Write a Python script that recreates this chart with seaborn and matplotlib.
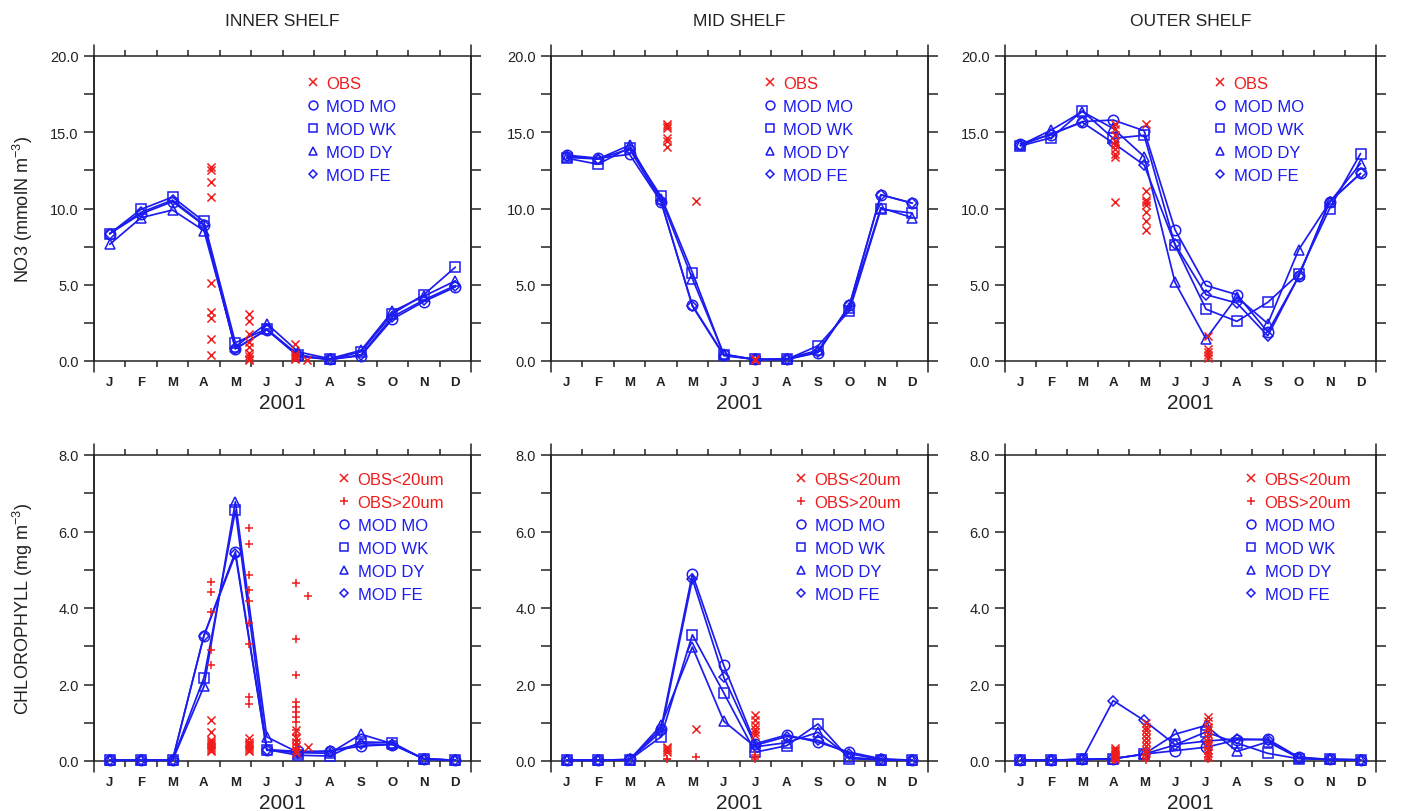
import numpy as np
import matplotlib
matplotlib.use("Agg")
import matplotlib.pyplot as plt
from matplotlib.lines import Line2D
from matplotlib.ticker import MultipleLocator, FormatStrFormatter
import seaborn as sns

# ---------------------------------------------------------------- data
MONTHS = ["J", "F", "M", "A", "M", "J", "J", "A", "S", "O", "N", "D"]
SHELVES = ["INNER SHELF", "MID SHELF", "OUTER SHELF"]
RUNS = ["MOD MO", "MOD WK", "MOD DY", "MOD FE"]
YEAR = "2001"

# Nitrate (mmolN m-3), monthly model means
no3_inner = {
    "MOD MO": [8.35, 9.65, 10.45, 8.9, 0.8, 2.05, 0.3, 0.1, 0.35, 2.75, 3.9, 4.85],
    "MOD WK": [8.35, 9.95, 10.75, 9.15, 1.2, 2.1, 0.4, 0.1, 0.6, 3.1, 4.35, 6.15],
    "MOD DY": [7.65, 9.4, 9.9, 8.55, 0.95, 2.45, 0.6, 0.15, 0.7, 3.25, 4.25, 5.25],
    "MOD FE": [8.35, 9.75, 10.55, 8.95, 0.8, 2.05, 0.35, 0.1, 0.4, 2.9, 4.0, 4.95],
}
no3_mid = {
    "MOD MO": [13.5, 13.3, 13.55, 10.45, 3.65, 0.4, 0.1, 0.1, 0.55, 3.65, 10.9, 10.35],
    "MOD WK": [13.3, 12.9, 14.0, 10.8, 5.8, 0.4, 0.1, 0.1, 1.0, 3.3, 9.95, 9.7],
    "MOD DY": [13.35, 13.25, 14.15, 10.65, 5.4, 0.45, 0.1, 0.15, 0.7, 3.5, 10.05, 9.4],
    "MOD FE": [13.45, 13.25, 13.9, 10.5, 3.6, 0.35, 0.1, 0.1, 0.6, 3.65, 10.9, 10.35],
}
no3_outer = {
    "MOD MO": [14.25, 14.85, 15.7, 15.8, 15.1, 8.6, 4.95, 4.35, 1.9, 5.55, 10.45, 12.3],
    "MOD WK": [14.1, 14.65, 16.4, 14.6, 14.8, 7.6, 3.4, 2.6, 3.85, 5.7, 10.0, 13.6],
    "MOD DY": [14.15, 15.15, 16.35, 15.25, 13.4, 5.15, 1.45, 4.2, 2.45, 7.3, 10.4, 12.95],
    "MOD FE": [14.15, 14.9, 15.65, 14.3, 12.85, 7.65, 4.35, 3.8, 1.65, 5.55, 10.45, 12.3],
}

# Nitrate observations: (fractional month, value)
no3_obs_inner_t = [3.74] * 9 + [4.94] * 9 + [6.4] * 5 + [6.77]
no3_obs_inner_v = [12.7, 12.5, 11.75, 10.75, 5.1, 3.2, 2.8, 1.45, 0.4,
                   3.1, 2.65, 1.8, 1.25, 0.9, 0.5, 0.3, 0.15, 0.05,
                   1.1, 0.45, 0.3, 0.2, 0.1, 0.08]
no3_obs_mid_t = [3.68] * 6 + [4.6] + [6.5] * 3
no3_obs_mid_v = [15.55, 15.4, 15.25, 14.65, 14.45, 14.05, 10.5, 0.15, 0.1, 0.05]
no3_obs_outer_t = [3.57] * 9 + [4.55] * 8 + [6.55] * 5
no3_obs_outer_v = [15.55, 15.2, 14.85, 14.45, 14.15, 13.9, 13.6, 13.35, 10.45,
                   15.55, 11.15, 10.55, 10.4, 10.2, 9.8, 9.15, 8.6,
                   1.65, 0.8, 0.6, 0.4, 0.2]

# Chlorophyll (mg m-3), monthly model means
chl_inner = {
    "MOD MO": [0.02, 0.02, 0.02, 3.28, 5.47, 0.3, 0.25, 0.26, 0.39, 0.43, 0.06, 0.02],
    "MOD WK": [0.02, 0.02, 0.02, 2.18, 6.55, 0.3, 0.15, 0.13, 0.5, 0.48, 0.05, 0.02],
    "MOD DY": [0.02, 0.02, 0.02, 1.95, 6.78, 0.63, 0.22, 0.2, 0.7, 0.45, 0.05, 0.02],
    "MOD FE": [0.02, 0.02, 0.02, 3.28, 5.4, 0.28, 0.22, 0.25, 0.45, 0.43, 0.06, 0.02],
}
chl_mid = {
    "MOD MO": [0.02, 0.02, 0.04, 0.84, 4.89, 2.5, 0.45, 0.68, 0.49, 0.23, 0.06, 0.02],
    "MOD WK": [0.02, 0.02, 0.03, 0.63, 3.3, 1.78, 0.23, 0.4, 0.97, 0.06, 0.03, 0.02],
    "MOD DY": [0.02, 0.02, 0.03, 0.93, 2.98, 1.04, 0.37, 0.48, 0.75, 0.1, 0.03, 0.02],
    "MOD FE": [0.02, 0.02, 0.04, 0.76, 4.76, 2.19, 0.41, 0.64, 0.54, 0.19, 0.04, 0.02],
}
chl_outer = {
    "MOD MO": [0.02, 0.02, 0.04, 0.06, 0.18, 0.27, 0.36, 0.55, 0.57, 0.1, 0.04, 0.03],
    "MOD WK": [0.02, 0.02, 0.04, 0.06, 0.18, 0.42, 0.76, 0.47, 0.2, 0.06, 0.04, 0.03],
    "MOD DY": [0.02, 0.02, 0.04, 0.06, 0.18, 0.7, 0.93, 0.25, 0.5, 0.08, 0.04, 0.03],
    "MOD FE": [0.02, 0.02, 0.05, 1.58, 1.06, 0.43, 0.52, 0.58, 0.55, 0.08, 0.04, 0.03],
}

# Chlorophyll observations, small (<20um) and large (>20um) fractions
chl_small_inner_t = [3.74] * 9 + [4.94] * 7 + [6.42] * 6 + [6.8]
chl_small_inner_v = [1.08, 0.77, 0.55, 0.5, 0.45, 0.4, 0.35, 0.3, 0.25,
                     0.6, 0.5, 0.45, 0.4, 0.35, 0.3, 0.25,
                     0.8, 0.6, 0.5, 0.4, 0.3, 0.2, 0.37]
chl_large_inner_t = [3.74] * 5 + [4.94] * 9 + [6.42] * 14 + [6.8]
chl_large_inner_v = [4.67, 4.41, 3.89, 2.9, 2.5,
                     6.08, 5.67, 4.87, 4.47, 4.19, 3.61, 3.06, 1.67, 1.5,
                     4.66, 3.19, 2.25, 1.54, 1.41, 1.28, 1.15, 1.02, 0.8, 0.67,
                     0.55, 0.45, 0.35, 0.28, 4.31]
chl_small_mid_t = [3.68] * 4 + [4.6] + [6.5] * 6
chl_small_mid_v = [0.37, 0.33, 0.28, 0.23, 0.83, 1.19, 1.06, 0.93, 0.84, 0.77, 0.69]
chl_large_mid_t = [3.68] * 2 + [4.6] + [6.5] * 3
chl_large_mid_v = [0.06, 0.04, 0.1, 0.15, 0.1, 0.06]
chl_small_outer_t = [3.57] * 7 + [4.55] * 9 + [6.55] * 11
chl_small_outer_v = [0.35, 0.3, 0.25, 0.2, 0.15, 0.1, 0.05,
                     1.0, 0.9, 0.8, 0.7, 0.6, 0.5, 0.4, 0.3, 0.2,
                     1.15, 1.05, 0.9, 0.8, 0.7, 0.6, 0.5, 0.4, 0.3, 0.2, 0.1]
chl_large_outer_t = [3.57] * 3 + [4.55] * 3 + [6.55] * 5
chl_large_outer_v = [0.1, 0.05, 0.02, 0.15, 0.08, 0.03, 0.5, 0.35, 0.2, 0.1, 0.05]

# ---------------------------------------------------------------- style
BLUE = "#1c1cf0"
RED = "#f01c1c"
INK = "#222222"
RUN_MARKERS = {"MOD MO": ("o", 7.5), "MOD WK": ("s", 7.0),
               "MOD DY": ("^", 7.0), "MOD FE": ("D", 5.3)}

sns.set_theme(style="ticks")
plt.rcParams["font.family"] = ["Liberation Sans", "DejaVu Sans"]
plt.rcParams["mathtext.default"] = "regular"

fig = plt.figure(figsize=(14.03, 8.12), dpi=100)
W, H = 1403.0, 812.0
col_px = [(94, 377), (551, 377), (1005, 371)]
row_px = [(57, 305), (456, 306)]

panels = [
    [(no3_inner, [(no3_obs_inner_t, no3_obs_inner_v, "x")]),
     (no3_mid, [(no3_obs_mid_t, no3_obs_mid_v, "x")]),
     (no3_outer, [(no3_obs_outer_t, no3_obs_outer_v, "x")])],
    [(chl_inner, [(chl_small_inner_t, chl_small_inner_v, "x"),
                  (chl_large_inner_t, chl_large_inner_v, "+")]),
     (chl_mid, [(chl_small_mid_t, chl_small_mid_v, "x"),
                (chl_large_mid_t, chl_large_mid_v, "+")]),
     (chl_outer, [(chl_small_outer_t, chl_small_outer_v, "x"),
                  (chl_large_outer_t, chl_large_outer_v, "+")])],
]
row_cfg = [
    dict(ymax=20.0, major=5.0, minor=2.5,
         ylabel="NO3 (mmolN m$^{-3}$)",
         obs_labels=["OBS"], leg_anchor=(0.562, 0.935)),
    dict(ymax=8.0, major=2.0, minor=1.0,
         ylabel="CHLOROPHYLL (mg m$^{-3}$)",
         obs_labels=["OBS<20um", "OBS>20um"], leg_anchor=(0.646, 0.945)),
]

month_centers = np.arange(len(MONTHS)) + 0.5

for r, ((top, hgt), cfg) in enumerate(zip(row_px, row_cfg)):
    for c, (left, wid) in enumerate(col_px):
        ax = fig.add_axes([left / W, 1 - (top + hgt) / H, wid / W, hgt / H])
        model, obs_sets = panels[r][c]

        for run in RUNS:
            m, ms = RUN_MARKERS[run]
            sns.lineplot(x=month_centers, y=model[run], ax=ax, color=BLUE,
                         marker=m, markersize=ms, mfc="none", mec=BLUE,
                         mew=1.1, lw=1.25, clip_on=False, zorder=3)
        for t, v, m in obs_sets:
            sns.scatterplot(x=t, y=v, ax=ax, marker=m, color=RED, s=34,
                            linewidth=1.1, clip_on=False, zorder=4)

        ax.set_xlim(0, 12)
        ax.set_ylim(0, cfg["ymax"])

        # y axis: ticks outward on both sides
        ax.yaxis.set_major_locator(MultipleLocator(cfg["major"]))
        ax.yaxis.set_minor_locator(MultipleLocator(cfg["minor"]))
        ax.yaxis.set_major_formatter(FormatStrFormatter("%.1f"))
        ax.tick_params(axis="y", which="both", direction="out", length=7,
                       width=1.1, color=INK, left=True, right=True,
                       labelsize=10.5, labelcolor=INK, pad=4)

        # x axis: ticks at month boundaries, labels at month centres
        ax.set_xticks(np.arange(1, 12))
        ax.set_xticklabels([])
        ax.set_xticks(month_centers, minor=True)
        ax.set_xticklabels(MONTHS, minor=True)
        ax.tick_params(axis="x", which="major", direction="out", length=4,
                       width=1.1, color=INK, top=True, bottom=True)
        ax.tick_params(axis="x", which="minor", length=0, pad=11,
                       labelsize=9.5, labelcolor=INK)
        for lbl in ax.get_xticklabels(minor=True):
            lbl.set_fontweight("bold")

        for sp in ax.spines.values():
            sp.set_visible(True)
            sp.set_color(INK)
            sp.set_linewidth(1.1)
        # vertical frame lines run slightly past the plotting area
        ext = 11.0 / hgt
        for xs in (0.0, 1.0):
            ax.add_line(Line2D([xs, xs], [-ext, 1 + ext], transform=ax.transAxes,
                               color=INK, lw=1.1, clip_on=False))

        ax.set_xlabel(YEAR, fontsize=15, color=INK)
        ax.xaxis.label.set_va("baseline")
        ax.xaxis.set_label_coords(0.5, -0.155)

        if c == 0:
            ax.set_ylabel(cfg["ylabel"], fontsize=13, color=INK)
            ax.yaxis.label.set_va("center")
            ax.yaxis.set_label_coords(-71.0 / wid, 0.5)
        else:
            ax.set_ylabel("")

        if r == 0:
            ax.set_title(SHELVES[c], fontsize=12.5, color=INK, y=1.1, pad=0)

        handles, labels, colors = [], [], []
        for lab, (_, _, m) in zip(cfg["obs_labels"], obs_sets):
            handles.append(Line2D([], [], ls="none", marker=m, color=RED,
                                  markersize=6, mew=1.1))
            labels.append(lab)
            colors.append(RED)
        for run in RUNS:
            m, ms = RUN_MARKERS[run]
            handles.append(Line2D([], [], ls="none", marker=m, mfc="none",
                                  mec=BLUE, markersize=ms * 0.85, mew=1.1))
            labels.append(run)
            colors.append(BLUE)
        ax.legend(handles, labels, loc="upper left", bbox_to_anchor=cfg["leg_anchor"],
                  frameon=False, fontsize=12, handlelength=0.8,
                  handletextpad=0.4, labelspacing=0.48, borderpad=0,
                  borderaxespad=0, labelcolor=colors)

fig.savefig("out.png", dpi=100)
